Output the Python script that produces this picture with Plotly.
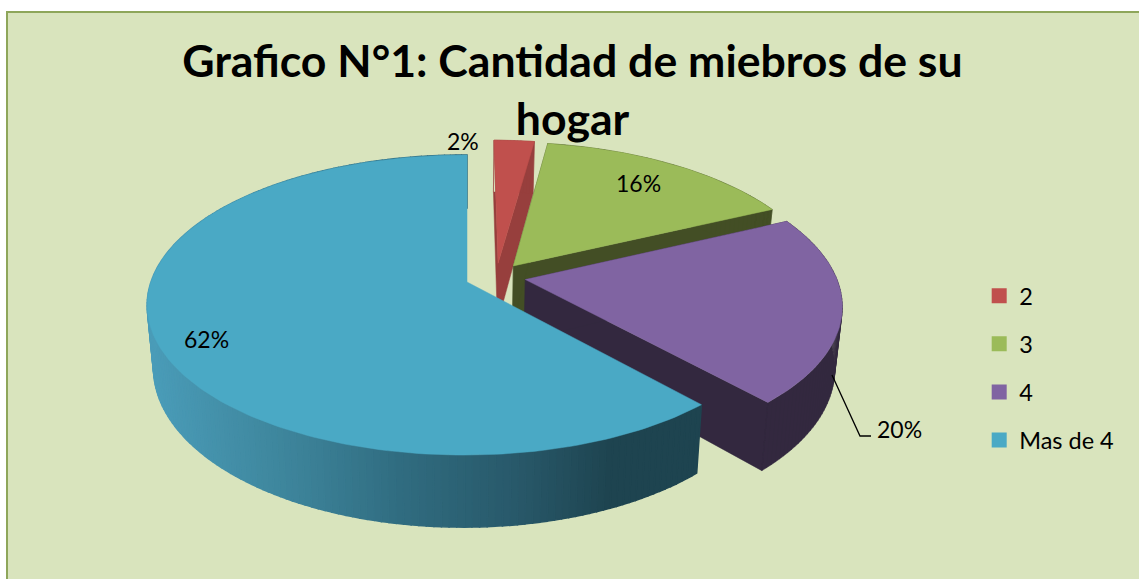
import math
import plotly.graph_objects as go

# Data (shares; labels show them rounded)
categories = ["2", "3", "4", "Mas de 4"]
values = [2.4, 15.6, 20.4, 61.6]
top_colors = ["#c0504d", "#9bbb59", "#8064a2", "#4aa9c5"]
wall_colors = ["#973f3d", "#434e25", "#33283f", None]
title_lines = ["Grafico N°1: Cantidad de miebros de su", "hogar"]

# Projection of the tilted, exploded pie
CX, CY = 467.0, 282.0
R, B, K, KX = 313.5, 146.5, 0.1535, 0.008
DEPTH, SHRINK = 61.0, 0.98
PULL = 0.0946
PULL_LAST = 0.1006
RADIUS_OTHERS = 1.008


def proj(x, y):
    s = 1 / (1 + K * y + KX * x)
    return CX + R * x * s, CY - B * y * s, s


def bottom(x, y):
    X, Y, s = proj(x, y)
    return CX + (X - CX) * SHRINK, Y + DEPTH * s


def lerp_color(x):
    stops = [(150, (74, 156, 184)), (300, (60, 130, 152)), (400, (48, 108, 128)),
             (520, (40, 88, 105)), (610, (30, 68, 80)), (720, (30, 68, 80))]
    for (a, ca), (b, cb) in zip(stops, stops[1:]):
        if x <= b:
            t = max(0, (x - a) / (b - a))
            return "rgb(%d,%d,%d)" % tuple(round(p + (q - p) * t) for p, q in zip(ca, cb))
    return "rgb(30,68,80)"


total = sum(values)
angles, acc = [], 0
for v in values:
    angles.append((acc / total * 2 * math.pi, (acc + v) / total * 2 * math.pi))
    acc += v
mid_last = sum(angles[-1]) / 2
last = len(values) - 1

fig = go.Figure()
for i, (name, (a0, a1)) in enumerate(zip(categories, angles)):
    mid = (a0 + a1) / 2
    # apex in plane coordinates, relative to the last slice's apex
    if i == last:
        ox, oy, rad = 0.0, 0.0, 1.0
    else:
        ox = PULL * math.sin(mid) - PULL_LAST * math.sin(mid_last)
        oy = PULL * math.cos(mid) - PULL_LAST * math.cos(mid_last)
        rad = RADIUS_OTHERS
    n = max(12, int(values[i] * 3))
    arc = [(ox + rad * math.sin(a0 + (a1 - a0) * j / n), oy + rad * math.cos(a0 + (a1 - a0) * j / n))
           for j in range(n + 1)]
    apex = (ox, oy)
    # side faces
    if wall_colors[i]:
        xs, ys = [], []
        for p, q in [(apex, arc[0]), (apex, arc[-1])] + list(zip(arc, arc[1:])):
            quad = [proj(*p)[:2], proj(*q)[:2], bottom(*q), bottom(*p), proj(*p)[:2]]
            xs += [c[0] for c in quad] + [None]
            ys += [c[1] for c in quad] + [None]
        fig.add_trace(go.Scatter(x=xs, y=ys, mode="lines", fill="toself", fillcolor=wall_colors[i],
                                 line=dict(color=wall_colors[i], width=0.5), showlegend=False, hoverinfo="skip"))
    else:
        for p, q in zip(arc, arc[1:]):
            quad = [proj(*p)[:2], proj(*q)[:2], bottom(*q), bottom(*p), proj(*p)[:2]]
            col = lerp_color((quad[0][0] + quad[1][0]) / 2)
            fig.add_trace(go.Scatter(x=[c[0] for c in quad], y=[c[1] for c in quad], mode="lines", fill="toself",
                                     fillcolor=col, line=dict(color=col, width=1.5), showlegend=False, hoverinfo="skip"))
    # top face
    pts = [proj(*apex)[:2]] + [proj(*p)[:2] for p in arc] + [proj(*apex)[:2]]
    fig.add_trace(go.Scatter(x=[c[0] for c in pts], y=[c[1] for c in pts], mode="lines", fill="toself",
                             fillcolor=top_colors[i], line=dict(color=top_colors[i], width=0.5),
                             name=name, showlegend=False, hoverinfo="name"))

# Legend entries
for i, name in enumerate(categories):
    fig.add_trace(go.Scatter(x=[None], y=[None], mode="markers", name=name, legendgroup=name,
                             marker=dict(symbol="square", size=15, color=top_colors[i])))

label_pos = [(463, 141), (638, 183), (899, 429), (206, 339)]
annotations = [dict(x=p[0], y=p[1], xref="x", yref="y", text=f"{round(v)}%", showarrow=False,
                    font=dict(family="Lato", size=23, color="#000000"))
               for p, v in zip(label_pos, values)]

fig.update_layout(
    width=1139, height=579, margin=dict(l=0, r=0, t=0, b=0),
    paper_bgcolor="#ffffff", plot_bgcolor="rgba(0,0,0,0)",
    xaxis=dict(range=[0, 1139], visible=False, fixedrange=True),
    yaxis=dict(range=[579, 0], visible=False, fixedrange=True),
    title=dict(text="<br>".join(title_lines), x=572.5 / 1139, xanchor="center", y=1 - 77 / 579, yanchor="top",
               font=dict(family="Lato", size=44.6, color="#000000", weight="bold")),
    legend=dict(x=0.8597, xanchor="left", y=1 - 274 / 579, yanchor="top", tracegroupgap=14.5,
                font=dict(family="Lato", size=23.5, color="#000000"), bgcolor="rgba(0,0,0,0)"),
    shapes=[
        dict(type="rect", xref="x", yref="y", x0=7, y0=12, x1=1145, y1=590, layer="below",
             fillcolor="#d9e4bd", line=dict(color="#8ea65a", width=2)),
        dict(type="path", xref="x", yref="y", path="M 832 375 L 860 436 L 871 436",
             line=dict(color="#000000", width=1.3)),
    ],
    annotations=annotations,
)
fig.write_html("out.html", post_script="document.body.style.margin='0';", config={"displayModeBar": False})
